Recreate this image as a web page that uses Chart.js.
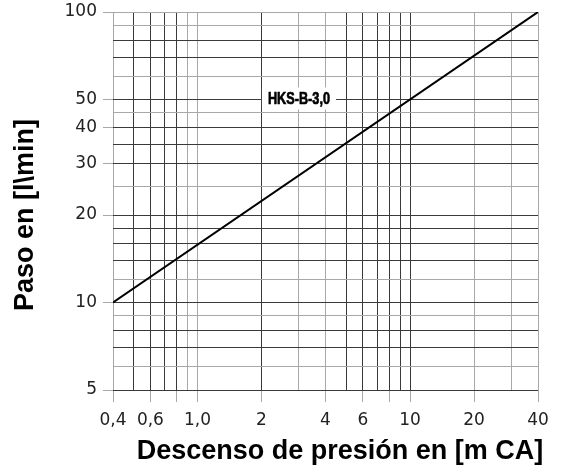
<!DOCTYPE html>
<html>
<head>
<meta charset="utf-8">
<script src="https://cdn.jsdelivr.net/npm/chart.js@4.4.0/dist/chart.umd.min.js"></script>
<style>
  html, body { margin: 0; padding: 0; background: #fff; }
  #wrap { width: 562px; height: 468px; }
</style>
</head>
<body>
<div id="wrap"><canvas id="chartCaudal"></canvas></div>
<script>
// datos
const serieX = [0.4, 40];      // m CA
const serieY = [10, 100];      // l/min
const serieNombre = 'HKS-B-3,0';
const serieEtiquetaX = 3;
const serieEtiquetaY = 50;

const xGrid = [0.4, 0.5, 0.6, 0.7, 0.8, 0.9, 1, 2, 3, 4, 5, 6, 7, 8, 9, 10, 20, 30, 40];
const xMarcas = [0.4, 0.6, 0.8, 1, 2, 4, 6, 8, 10, 20, 40];
const xEtiquetaValores = [0.4, 0.6, 1, 2, 4, 6, 10, 20, 40];
const xEtiquetaTextos = ['0,4', '0,6', '1,0', '2', '4', '6', '10', '20', '40'];

const yGrid = [5, 6, 7, 8, 9, 10, 12, 14, 16, 18, 20, 25, 30, 35, 40, 45, 50, 60, 70, 80, 90, 100];
const yEtiquetaValores = [5, 10, 20, 30, 40, 50, 100];
const yEtiquetaTextos = ['5', '10', '20', '30', '40', '50', '100'];

// lineas oscuras vs grises en la reticula
const xOscuras = [0.5, 0.6, 0.7, 0.8, 2, 5, 6, 7, 8, 9, 10];
const yOscuras = [5, 7, 8, 10, 14, 16, 18, 20, 30, 35, 40, 50, 70, 80];

const OSCURO = '#3a3a3a';
const GRIS = '#a8a8a8';

const tituloX = 'Descenso de presión en [m CA]';
const tituloY = 'Paso en [l\\min]';

const etiquetaSerie = {
    id: 'etiquetaSerie',
    afterDatasetsDraw(chart) {
        const { ctx, scales } = chart;
        const cx = scales.x.getPixelForValue(serieEtiquetaX);
        const cy = scales.y.getPixelForValue(serieEtiquetaY) - 1;
        ctx.save();
        ctx.fillStyle = '#fff';
        ctx.fillRect(cx - 37, cy - 11, 74, 22);
        ctx.font = 'bold 17px "Liberation Sans"';
        const w = ctx.measureText(serieNombre).width;
        ctx.translate(cx, cy);
        ctx.scale(62 / w, 1);
        ctx.fillStyle = '#000';
        ctx.strokeStyle = '#000';
        ctx.lineWidth = 0.7;
        ctx.textAlign = 'center';
        ctx.textBaseline = 'middle';
        ctx.fillText(serieNombre, 0, 1);
        ctx.strokeText(serieNombre, 0, 1);
        ctx.restore();
    }
};

const titulos = {
    id: 'titulos',
    afterDraw(chart) {
        const { ctx } = chart;
        ctx.save();
        ctx.fillStyle = '#000';
        ctx.font = 'bold 27px "Liberation Sans"';
        ctx.textAlign = 'center';
        ctx.textBaseline = 'middle';
        ctx.fillText(tituloX, 340, 452);
        ctx.translate(26, 215);
        ctx.rotate(-Math.PI / 2);
        ctx.fillText(tituloY, 0, 0);
        ctx.restore();
    }
};

new Chart(document.getElementById('chartCaudal'), {
    type: 'line',
    data: {
        datasets: [{
            label: serieNombre,
            data: serieX.map((x, i) => ({ x: x, y: serieY[i] })),
            borderColor: '#000',
            borderWidth: 2,
            pointRadius: 0,
            fill: false,
            tension: 0,
        }],
    },
    options: {
        responsive: true,
        maintainAspectRatio: false,
        animation: false,
        layout: { padding: { top: 12, right: 24, left: 0, bottom: 0 } },
        plugins: { legend: { display: false }, tooltip: { enabled: false } },
        scales: {
            x: {
                type: 'logarithmic',
                min: 0.4,
                max: 40,
                afterBuildTicks: (scale) => { scale.ticks = xGrid.map(v => ({ value: v })); },
                afterFit: (scale) => {
                    scale.height = 78;
                    scale.paddingLeft = 0;
                    scale.paddingRight = 0;
                },
                border: { display: false },
                grid: {
                    color: (c) => xOscuras.includes(c.tick && c.tick.value) ? OSCURO : GRIS,
                    tickColor: (c) => xMarcas.includes(c.tick && c.tick.value) ? GRIS : 'rgba(0,0,0,0)',
                    lineWidth: 1,
                    drawTicks: true,
                    tickLength: 12,
                },
                ticks: {
                    autoSkip: false,
                    maxRotation: 0,
                    minRotation: 0,
                    padding: 8,
                    color: '#222',
                    font: { family: '"DejaVu Sans"', size: 17 },
                    callback: (v) => {
                        const i = xEtiquetaValores.indexOf(v);
                        return i >= 0 ? xEtiquetaTextos[i] : '';
                    },
                },
            },
            y: {
                type: 'logarithmic',
                min: 5,
                max: 100,
                afterBuildTicks: (scale) => { scale.ticks = yGrid.map(v => ({ value: v })); },
                afterFit: (scale) => {
                    scale.width = 113;
                    scale.paddingTop = 0;
                    scale.paddingBottom = 0;
                },
                border: { display: false },
                grid: {
                    color: (c) => yOscuras.includes(c.tick && c.tick.value) ? OSCURO : GRIS,
                    tickColor: (c) => yEtiquetaValores.includes(c.tick && c.tick.value) ? GRIS : 'rgba(0,0,0,0)',
                    lineWidth: 1,
                    drawTicks: true,
                    tickLength: 10,
                },
                ticks: {
                    autoSkip: false,
                    padding: 6,
                    color: '#222',
                    font: { family: '"DejaVu Sans"', size: 17 },
                    callback: (v) => {
                        const i = yEtiquetaValores.indexOf(v);
                        return i >= 0 ? yEtiquetaTextos[i] : '';
                    },
                },
            },
        },
    },
    plugins: [etiquetaSerie, titulos],
});
</script>
</body>
</html>
